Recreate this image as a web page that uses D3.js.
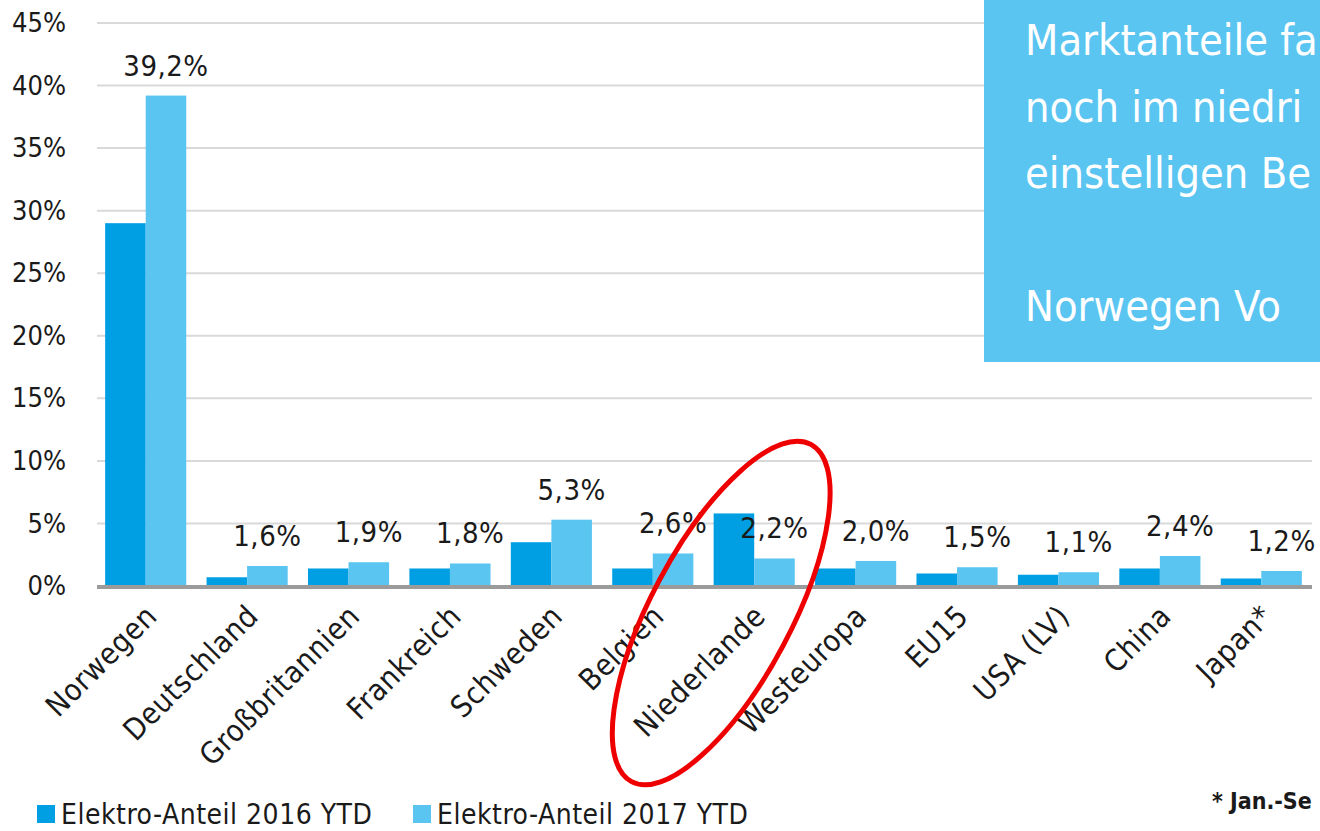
<!DOCTYPE html>
<html lang="de">
<head>
    <meta charset="UTF-8">
    <title>Elektro-Anteil</title>
    <script src="https://d3js.org/d3.v7.min.js"></script>
    <style>
        body { margin: 0; background: #fff; }
        svg { display: block; }
        text { font-family: "DejaVu Sans Condensed", "Liberation Sans", sans-serif; fill: #1a1a1a; }
    </style>
</head>
<body>
<svg></svg>
<script>
    const categories = ["Norwegen", "Deutschland", "Großbritannien", "Frankreich", "Schweden", "Belgien",
        "Niederlande", "Westeuropa", "EU15", "USA (LV)", "China", "Japan*"];
    const values2016 = [29.0, 0.7, 1.4, 1.4, 3.5, 1.4, 5.8, 1.4, 1.0, 0.9, 1.4, 0.6];
    const values2017 = [39.2, 1.6, 1.9, 1.8, 5.3, 2.6, 2.2, 2.0, 1.5, 1.1, 2.4, 1.2];
    const seriesNames = ["Elektro-Anteil 2016 YTD", "Elektro-Anteil 2017 YTD"];
    const yTicks = [0, 5, 10, 15, 20, 25, 30, 35, 40, 45];
    // the box text is cut off at the right edge of the picture, only the visible part is kept
    const boxLines = ["Marktanteile fa", "noch im niedri", "einstelligen Be", "", "Norwegen Vo"];
    const footnote = "* Jan.-Se";

    const colors = ["#009fe3", "#5bc5f2"];
    const width = 1320, height = 831;

    const svg = d3.select("svg").attr("width", width).attr("height", height);

    const y = d3.scaleLinear().domain([0, 45]).range([586, 23]);
    const x = d3.scaleBand().domain(categories).range([95, 1312]).paddingInner(0.2).paddingOuter(0.1);
    const xSub = d3.scaleBand().domain([0, 1]).range([0, x.bandwidth()]);

    // gridlines
    svg.append("g").selectAll("line")
        .data(yTicks.filter(function(t) { return t > 0; }))
        .enter().append("line")
        .attr("x1", 97).attr("x2", 1312)
        .attr("y1", function(d) { return y(d); })
        .attr("y2", function(d) { return y(d); })
        .attr("stroke", "#d9d9d9").attr("stroke-width", 2);

    // y axis labels
    const yAxis = svg.append("g").attr("transform", "translate(66,0)")
        .call(d3.axisLeft(y).tickValues(yTicks).tickSize(0).tickPadding(0).tickFormat(function(d) { return d + "%"; }));
    yAxis.select(".domain").remove();
    yAxis.selectAll("text").attr("font-size", 27).attr("font-family", null).attr("fill", "#1a1a1a");

    // bars
    const groups = svg.append("g").selectAll("g")
        .data(categories)
        .enter().append("g")
        .attr("transform", function(d) { return "translate(" + x(d) + ",0)"; });

    groups.selectAll("rect")
        .data(function(d, i) { return [values2016[i], values2017[i]]; })
        .enter().append("rect")
        .attr("x", function(d, j) { return xSub(j); })
        .attr("width", xSub.bandwidth())
        .attr("y", function(d) { return y(d); })
        .attr("height", function(d) { return y(0) - y(d); })
        .attr("fill", function(d, j) { return colors[j]; });

    // value labels (2017)
    groups.append("text")
        .attr("x", xSub(1) + xSub.bandwidth() / 2)
        .attr("y", function(d, i) { return y(values2017[i]) - 20; })
        .attr("text-anchor", "middle")
        .attr("font-size", 29)
        .attr("letter-spacing", 0.5)
        .text(function(d, i) { return values2017[i].toFixed(1).replace(".", ",") + "%"; });

    // baseline
    svg.append("line")
        .attr("x1", 97).attr("x2", 1312)
        .attr("y1", y(0) + 1).attr("y2", y(0) + 1)
        .attr("stroke", "#9b9b9b").attr("stroke-width", 4);

    // category labels
    svg.append("g").selectAll("text")
        .data(categories)
        .enter().append("text")
        .attr("transform", function(d) {
            return "translate(" + (x(d) + x.bandwidth() / 2 + 13) + ",618) rotate(-45)";
        })
        .attr("text-anchor", "end")
        .attr("font-size", 30)
        .attr("letter-spacing", 0.6)
        .text(function(d) { return d; });

    // highlight ellipse
    svg.append("ellipse")
        .attr("cx", 0).attr("cy", 0).attr("rx", 191).attr("ry", 70)
        .attr("transform", "translate(" + (x("Niederlande") + x.bandwidth() / 2 - 33) + ",613) rotate(-62)")
        .attr("fill", "none").attr("stroke", "#ee0000").attr("stroke-width", 5);

    // legend
    const legend = svg.append("g").selectAll("g")
        .data(seriesNames)
        .enter().append("g")
        .attr("transform", function(d, i) { return "translate(" + (37 + i * 376) + ",805)"; });
    legend.append("rect").attr("width", 18).attr("height", 18)
        .attr("fill", function(d, i) { return colors[i]; });
    legend.append("text").attr("x", 24).attr("y", 19)
        .attr("font-size", 28).attr("letter-spacing", 0.5)
        .text(function(d) { return d; });

    // footnote
    svg.append("text").attr("x", 1212).attr("y", 809)
        .attr("font-size", 23).attr("font-weight", "bold")
        .text(footnote);

    // info box
    svg.append("rect").attr("x", 984).attr("y", 0).attr("width", 340).attr("height", 362)
        .attr("fill", "#5bc5f2");
    svg.append("g").selectAll("text")
        .data(boxLines)
        .enter().append("text")
        .attr("x", 1025)
        .attr("y", function(d, i) { return 55 + i * 66.5; })
        .attr("font-family", "Roboto, sans-serif")
        .attr("font-weight", 300)
        .attr("font-size", 43)
        .style("fill", "#fff")
        .text(function(d) { return d; });
</script>
</body>
</html>
